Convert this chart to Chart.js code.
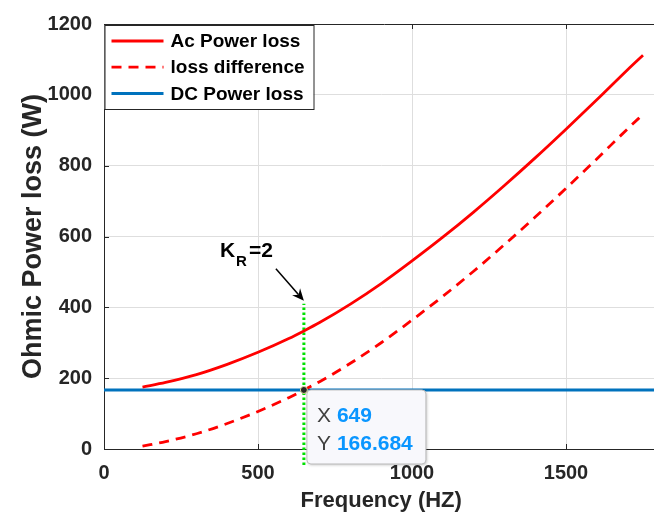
<!DOCTYPE html>
<html>
<head>
<meta charset="utf-8">
<script src="https://cdn.jsdelivr.net/npm/chart.js@4.4.1/dist/chart.umd.min.js"></script>
<style>
  html, body { margin: 0; padding: 0; background: #fff; overflow: hidden; }
  #wrap { width: 654px; height: 518px; overflow: hidden; }
</style>
</head>
<body>
<div id="wrap"><canvas id="lossChart" width="664" height="518"></canvas></div>
<script>
// frequency sweep (Hz) and the losses at each step (W)
const freq     = [125, 200, 300, 400, 500, 600, 649, 700, 800, 900, 1000, 1100, 1200, 1300, 1400, 1500, 1600, 1700, 1750];
const acLoss   = [175, 188, 210, 239, 273, 312, 333.4, 357, 409, 467, 531, 598, 669, 744, 822, 903, 986, 1071, 1112];
const lossDiff = [8, 21, 43, 72, 106, 145, 166.7, 190, 242, 300, 364, 431, 502, 577, 655, 736, 819, 904, 945];

// DC loss is flat over the whole range
const dcFreq = [0, 1800];
const dcLoss = [166.684, 166.684];

// K_R = 2 marker line and the data tip on the crossing
const markerFreq = [649, 649];
const markerLoss = [-45, 410];
const tipX = 649;
const tipY = 166.684;

const xTicks = [0, 500, 1000, 1500];
const yTicks = [0, 200, 400, 600, 800, 1000, 1200];

const FONT = "'Liberation Sans', Arial, Helvetica, sans-serif";
const AXIS = '#262626';
const GRID = '#dedede';

function pts(xs, ys) {
    return xs.map((v, i) => ({ x: v, y: ys[i] }));
}

const whiteBg = {
    id: 'whiteBg',
    beforeDraw(chart) {
        const ctx = chart.ctx;
        ctx.save();
        ctx.fillStyle = '#fff';
        ctx.fillRect(0, 0, chart.width, chart.height);
        ctx.restore();
    }
};

// top box edge and inward tick marks
const axesBox = {
    id: 'axesBox',
    afterDatasetsDraw(chart) {
        const ctx = chart.ctx, a = chart.chartArea;
        const { x, y } = chart.scales;
        ctx.save();
        ctx.strokeStyle = AXIS;
        ctx.lineWidth = 1;
        ctx.beginPath();
        ctx.moveTo(a.left, a.top + 0.5);
        ctx.lineTo(a.right + 10, a.top + 0.5);
        xTicks.forEach(v => {
            if (v === 0) return;
            const px = Math.round(x.getPixelForValue(v)) + 0.5;
            ctx.moveTo(px, a.bottom); ctx.lineTo(px, a.bottom - 5);
            ctx.moveTo(px, a.top); ctx.lineTo(px, a.top + 5);
        });
        yTicks.forEach(v => {
            if (v === 0 || v === 1200) return;
            const py = Math.round(y.getPixelForValue(v)) + 0.5;
            ctx.moveTo(a.left, py); ctx.lineTo(a.left + 5, py);
        });
        ctx.stroke();
        ctx.restore();
    }
};

const legendBox = {
    id: 'legendBox',
    afterDraw(chart) {
        const ctx = chart.ctx, a = chart.chartArea;
        const left = a.left + 0.5, top = a.top + 1, w = 209, h = 84;
        ctx.save();
        ctx.fillStyle = '#fff';
        ctx.fillRect(left, top, w, h);
        ctx.strokeStyle = AXIS;
        ctx.lineWidth = 1;
        ctx.strokeRect(left + 0.5, top + 0.5, w, h);
        chart.data.datasets.slice(0, 3).forEach((ds, i) => {
            const yy = top + 16 + i * 26.2;
            ctx.strokeStyle = ds.borderColor;
            ctx.lineWidth = ds.borderWidth;
            ctx.setLineDash(ds.borderDash || []);
            ctx.beginPath();
            ctx.moveTo(left + 7, yy);
            ctx.lineTo(left + 59, yy);
            ctx.stroke();
            ctx.setLineDash([]);
            ctx.fillStyle = '#000';
            ctx.font = 'bold 19px ' + FONT;
            ctx.textBaseline = 'middle';
            ctx.fillText(ds.label, left + 66, yy + 1);
        });
        ctx.restore();
    }
};

const dataTip = {
    id: 'dataTip',
    afterDraw(chart) {
        const ctx = chart.ctx;
        const { x, y } = chart.scales;
        const px = x.getPixelForValue(tipX), py = y.getPixelForValue(tipY);
        const bx = px + 3, by = py, bw = 119, bh = 74;
        ctx.save();
        ctx.shadowColor = 'rgba(0,0,0,0.25)';
        ctx.shadowBlur = 3;
        ctx.shadowOffsetX = 1;
        ctx.shadowOffsetY = 1;
        ctx.beginPath();
        ctx.roundRect(bx, by, bw, bh, 4);
        ctx.fillStyle = '#f8f8fc';
        ctx.fill();
        ctx.shadowColor = 'transparent';
        ctx.strokeStyle = '#bdbdbd';
        ctx.lineWidth = 1;
        ctx.stroke();

        ctx.textBaseline = 'middle';
        ctx.fillStyle = '#404040';
        ctx.font = '21px ' + FONT;
        ctx.fillText('X', bx + 10, by + 26);
        ctx.fillText('Y', bx + 10, by + 54);
        ctx.fillStyle = '#0a96ff';
        ctx.font = 'bold 21px ' + FONT;
        ctx.fillText(String(tipX), bx + 30, by + 26);
        ctx.fillText(String(tipY), bx + 30, by + 54);

        ctx.beginPath();
        ctx.arc(px, py, 3.5, 0, Math.PI * 2);
        ctx.fillStyle = '#262626';
        ctx.fill();
        ctx.strokeStyle = '#e6dca0';
        ctx.lineWidth = 1;
        ctx.stroke();
        ctx.restore();
    }
};

// "K_R=2" label with arrow pointing at the top of the marker line
const krNote = {
    id: 'krNote',
    afterDraw(chart) {
        const ctx = chart.ctx;
        const { x, y } = chart.scales;
        const ax = x.getPixelForValue(markerFreq[1]), ay = y.getPixelForValue(markerLoss[1]) - 3;
        const sx = ax - 28, sy = ay - 32;
        ctx.save();
        ctx.strokeStyle = '#000';
        ctx.fillStyle = '#000';
        ctx.lineWidth = 1.5;
        const ang = Math.atan2(ay - sy, ax - sx);
        ctx.beginPath();
        ctx.moveTo(sx, sy);
        ctx.lineTo(ax - 8 * Math.cos(ang), ay - 8 * Math.sin(ang));
        ctx.stroke();
        ctx.beginPath();
        ctx.moveTo(ax, ay);
        ctx.lineTo(ax - 13 * Math.cos(ang - 0.42), ay - 13 * Math.sin(ang - 0.42));
        ctx.lineTo(ax - 8 * Math.cos(ang), ay - 8 * Math.sin(ang));
        ctx.lineTo(ax - 13 * Math.cos(ang + 0.42), ay - 13 * Math.sin(ang + 0.42));
        ctx.closePath();
        ctx.fill();

        ctx.textBaseline = 'alphabetic';
        ctx.font = 'bold 21px ' + FONT;
        const tx = ax - 84, ty = ay - 44;
        ctx.fillText('K', tx, ty);
        ctx.font = 'bold 15px ' + FONT;
        ctx.fillText('R', tx + 16, ty + 9);
        ctx.font = 'bold 21px ' + FONT;
        ctx.fillText('=2', tx + 29, ty);
        ctx.restore();
    }
};

const tickFont = { family: FONT, size: 20, weight: 'bold' };
const xTitleFont = { family: FONT, size: 22, weight: 'bold' };
const yTitleFont = { family: FONT, size: 27, weight: 'bold' };

new Chart(document.getElementById('lossChart'), {
    type: 'line',
    data: {
        datasets: [
            {
                label: 'Ac Power loss',
                data: pts(freq, acLoss),
                borderColor: '#ff0000',
                borderWidth: 2.8,
                cubicInterpolationMode: 'monotone'
            },
            {
                label: 'loss difference',
                data: pts(freq, lossDiff),
                borderColor: '#ff0000',
                borderWidth: 2.8,
                borderDash: [10, 7],
                cubicInterpolationMode: 'monotone'
            },
            {
                label: 'DC Power loss',
                data: pts(dcFreq, dcLoss),
                borderColor: '#0072bd',
                borderWidth: 3
            },
            {
                label: 'K_R marker',
                data: pts(markerFreq, markerLoss),
                borderColor: '#00e000',
                borderWidth: 3,
                borderDash: [2.5, 2.5],
                clip: false
            }
        ]
    },
    options: {
        responsive: false,
        animation: false,
        devicePixelRatio: 1,
        elements: { point: { radius: 0 } },
        layout: { padding: { left: 0, right: 5.6, top: 22, bottom: 0 } },
        plugins: { legend: { display: false }, tooltip: { enabled: false } },
        scales: {
            x: {
                type: 'linear',
                min: 0,
                max: 1800,
                afterBuildTicks: s => { s.ticks = xTicks.map(v => ({ value: v })); },
                afterFit: s => { s.height = 69; },
                grid: { color: c => c.tick && c.tick.value === 0 ? 'rgba(0,0,0,0)' : GRID, drawTicks: false },
                border: { color: AXIS, width: 1 },
                ticks: { font: tickFont, color: AXIS, padding: 12, maxRotation: 0, callback: v => String(v) },
                title: { display: true, text: 'Frequency (HZ)', font: xTitleFont, color: AXIS, padding: { top: 0, bottom: 4 } }
            },
            y: {
                type: 'linear',
                min: 0,
                max: 1200,
                afterBuildTicks: s => { s.ticks = yTicks.map(v => ({ value: v })); },
                afterFit: s => { s.width = 104; },
                grid: { color: c => c.tick && (c.tick.value === 0 || c.tick.value === 1200) ? 'rgba(0,0,0,0)' : GRID, drawTicks: false },
                border: { color: AXIS, width: 1 },
                ticks: { font: tickFont, color: AXIS, padding: 12, callback: v => String(v) },
                title: { display: true, text: 'Ohmic Power loss (W)', font: yTitleFont, color: AXIS, padding: { top: 17, bottom: 0 } }
            }
        }
    },
    plugins: [whiteBg, axesBox, legendBox, dataTip, krNote]
});
</script>
</body>
</html>
